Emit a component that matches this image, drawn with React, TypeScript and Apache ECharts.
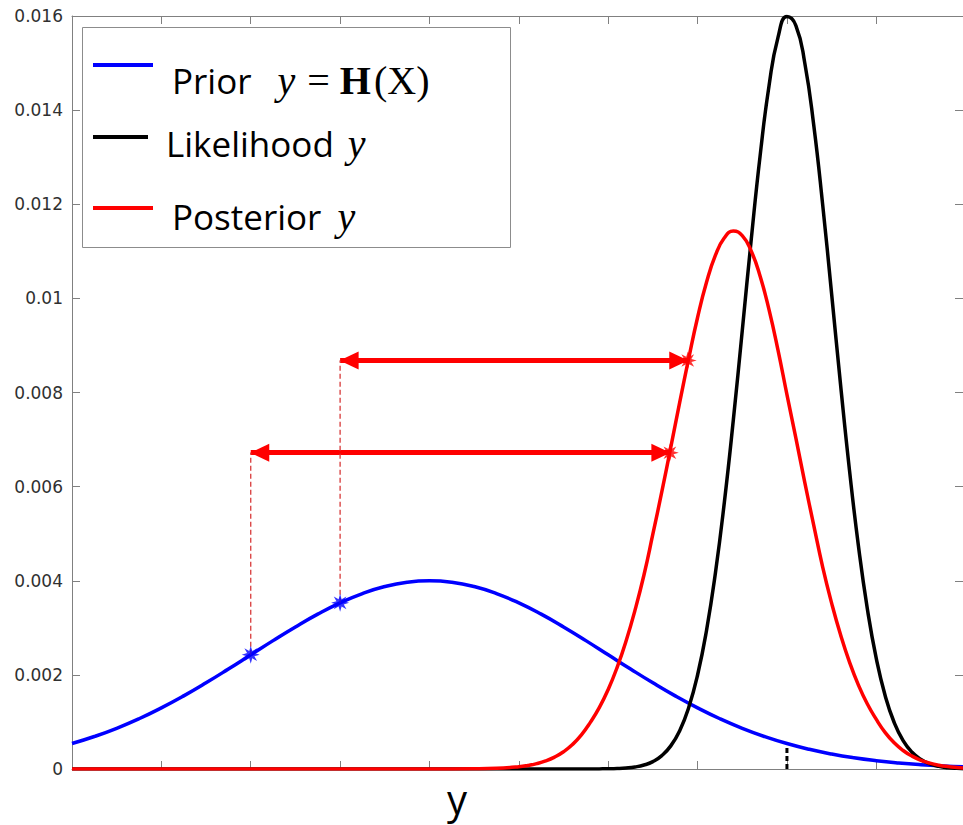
import React, { useEffect, useRef } from 'react';
import * as echarts from 'echarts';

// Prior y = H(X)  (blue)
const priorX = [0, 0.25, 0.5, 0.75, 1, 1.25, 1.5, 1.75, 2, 2.25, 2.5, 2.75, 3, 3.25, 3.5, 3.75, 4,
  4.25, 4.5, 4.75, 5, 5.25, 5.5, 5.75, 6, 6.25, 6.5, 6.75, 7, 7.25, 7.5, 7.75, 8,
  8.25, 8.5, 8.75, 9, 9.25, 9.5, 9.75, 10];
const priorY = [0.000541, 0.00069, 0.000865, 0.001068, 0.001299, 0.001554, 0.001831, 0.002124, 0.002426,
  0.002728, 0.003019, 0.00329, 0.00353, 0.003728, 0.003877, 0.003969, 0.004,
  0.003969, 0.003877, 0.003728, 0.00353, 0.00329, 0.003019, 0.002728, 0.002426, 0.002124, 0.001831,
  0.001554, 0.001299, 0.001068, 0.000865, 0.00069, 0.000541,
  0.000418, 0.000318, 0.000238, 0.000176, 0.000128, 0.0000912, 0.0000641, 0.0000444];

// Posterior y (red)
const posteriorX = [0, 2, 3, 4, 4.5, 4.75,
  5.0, 5.1, 5.2, 5.3, 5.4, 5.5, 5.6, 5.7, 5.8, 5.9,
  6.0, 6.1, 6.2, 6.3, 6.4, 6.5, 6.6, 6.7, 6.8, 6.9,
  7.0, 7.1, 7.2, 7.3, 7.4, 7.5, 7.6, 7.7, 7.8, 7.9,
  8.0, 8.1, 8.2, 8.3, 8.4, 8.5, 8.6, 8.7, 8.8, 8.9,
  9.0, 9.1, 9.2, 9.3, 9.4, 9.5, 9.6, 9.7, 9.8, 9.9, 10];
const posteriorY = [0, 0, 0, 0, 0.0000039, 0.0000144,
  0.0000477, 0.0000744, 0.000114, 0.000171, 0.000253, 0.000366, 0.00052, 0.000725, 0.000991, 0.001303,
  0.001689, 0.00216, 0.00272, 0.003375, 0.004122, 0.004994, 0.005892, 0.006834, 0.007789, 0.008718,
  0.009594, 0.010341, 0.010917, 0.011287, 0.011429, 0.011334, 0.011008, 0.010471, 0.009756, 0.008901,
  0.007954, 0.007032, 0.006085, 0.005177, 0.00429, 0.003525, 0.002852, 0.002272, 0.001783, 0.00138,
  0.001053, 0.000773, 0.000556, 0.000393, 0.000273, 0.000185, 0.000124, 0.0000812, 0.0000522, 0.000033, 0.0000204];

// Likelihood y (black)
const likelihoodX = [0, 5.0, 5.5, 5.8, 5.9,
  6.0, 6.1, 6.2, 6.3, 6.4, 6.5, 6.6, 6.7, 6.8, 6.9,
  7.0, 7.1, 7.2, 7.3, 7.4, 7.5, 7.6, 7.7, 7.8, 7.9,
  8.0, 8.1, 8.2, 8.3, 8.4, 8.5, 8.6, 8.7, 8.8, 8.9,
  9.0, 9.1, 9.2, 9.3, 9.4, 9.5, 9.6, 9.7, 9.8, 9.9, 10];
const likelihoodY = [0, 0, 0, 0, 0.000002,
  0.0000046, 0.00001, 0.0000212, 0.0000431, 0.000084, 0.000157, 0.000284, 0.000491, 0.000815, 0.001302,
  0.001997, 0.002944, 0.00417, 0.005674, 0.007416, 0.009315, 0.011242, 0.013034, 0.014523, 0.015546,
  0.015987, 0.015797, 0.014996, 0.013679, 0.011987, 0.010093, 0.008165, 0.006345, 0.004739, 0.0034,
  0.002344, 0.001552, 0.000988, 0.000604, 0.000355, 0.0002, 0.000109, 0.0000566, 0.0000284, 0.0000136, 0.0000063];

// Marked points
const priorMarkX = [2, 3];
const priorMarkY = [0.00243, 0.00353];
const postMarkX = [6.69, 6.89];
const postMarkY = [0.00672, 0.00868];

// Observation tick (black dashed)
const obsX = 8.0;
const obsTop = 0.00048;

const yMin = 0;
const yMax = 0.016;
const yStep = 0.002;
const xMin = 0;
const xMax = 9.97;
const xStep = 1;

const zip = (xs: number[], ys: number[]) => xs.map((x, i) => [x, ys[i]]);

function asteriskPath(): string {
  const pts: string[] = [];
  for (let k = 0; k < 16; k++) {
    const a = (k * Math.PI) / 8 - Math.PI / 2;
    const r = k % 2 === 0 ? 10 : 4.4;
    pts.push(`${(10 + r * Math.cos(a)).toFixed(3)} ${(10 + r * Math.sin(a)).toFixed(3)}`);
  }
  return 'path://M' + pts.join(' L') + ' Z';
}

export default function App() {
  const ref = useRef<HTMLDivElement>(null);
  useEffect(() => {
    const chart = echarts.init(ref.current!, null, { renderer: 'svg' });
    const axisColor = '#808080';
    const ast = asteriskPath();
    const xAxisBase = {
      type: 'value',
      min: xMin,
      max: xMax,
      interval: xStep,
      axisLine: { show: true, onZero: false, lineStyle: { color: axisColor, width: 1 } },
      axisTick: { show: true, inside: true, length: 8, lineStyle: { color: axisColor } },
      axisLabel: { show: false },
      splitLine: { show: false },
    };
    const yAxisBase = {
      type: 'value',
      min: yMin,
      max: yMax,
      interval: yStep,
      axisLine: { show: true, onZero: false, lineStyle: { color: axisColor, width: 1 } },
      axisTick: { show: true, inside: true, length: 8, lineStyle: { color: axisColor } },
      splitLine: { show: false },
    };
    const option: any = {
      animation: false,
      backgroundColor: '#ffffff',
      grid: { left: 72, right: -4, top: 16, bottom: 56, containLabel: false },
      xAxis: [
        { ...xAxisBase, position: 'bottom' },
        { ...xAxisBase, position: 'top' },
      ],
      yAxis: [
        {
          ...yAxisBase,
          position: 'left',
          axisLabel: { show: true, margin: 9, fontSize: 17, color: '#303030', fontFamily: 'DejaVu Sans' },
        },
        { ...yAxisBase, position: 'right', axisLabel: { show: false } },
      ],
      series: [
        {
          name: 'Prior',
          type: 'line',
          data: zip(priorX, priorY),
          smooth: true,
          symbol: 'none',
          lineStyle: { color: '#0000ff', width: 3.5 },
          z: 3,
        },
        {
          name: 'Likelihood',
          type: 'line',
          data: zip(likelihoodX, likelihoodY),
          smooth: true,
          symbol: 'none',
          lineStyle: { color: '#000000', width: 3.5 },
          z: 4,
        },
        {
          name: 'Posterior',
          type: 'line',
          data: zip(posteriorX, posteriorY),
          smooth: true,
          symbol: 'none',
          lineStyle: { color: '#ff0000', width: 3.5 },
          z: 5,
        },
        {
          name: 'obs',
          type: 'line',
          data: [[obsX, 0], [obsX, obsTop]],
          symbol: 'none',
          lineStyle: { color: '#000000', width: 3, type: [5, 3] },
          z: 6,
        },
        ...priorMarkX.map((x, i) => ({
          name: 'drop' + i,
          type: 'line',
          data: [[x, priorMarkY[i]], [x, postMarkY[i]]],
          symbol: 'none',
          lineStyle: { color: '#d83a3a', width: 1.3, type: [5, 3] },
          z: 6,
        })),
        {
          name: 'arrows',
          type: 'line',
          data: [],
          z: 7,
          markLine: {
            silent: true,
            animation: false,
            symbol: ['triangle', 'triangle'],
            symbolSize: [18, 19],
            symbolOffset: [[0, 9], [0, 9]],
            label: { show: false },
            lineStyle: { color: '#ff0000', width: 5, type: 'solid' },
            data: priorMarkX.map((x, i) => [
              { coord: [x, postMarkY[i]] },
              { coord: [postMarkX[i], postMarkY[i]] },
            ]),
          },
        },
        {
          name: 'priorMarks',
          type: 'scatter',
          data: zip(priorMarkX, priorMarkY),
          symbol: ast,
          symbolSize: 18,
          itemStyle: { color: '#0000ff' },
          z: 8,
        },
        {
          name: 'postMarks',
          type: 'scatter',
          data: zip(postMarkX, postMarkY),
          symbol: ast,
          symbolSize: 18,
          itemStyle: { color: '#ff0000' },
          z: 8,
        },
      ],
      graphic: [
        {
          type: 'group',
          z: 100,
          children: [
            {
              type: 'rect',
              shape: { x: 82.5, y: 27.5, width: 428, height: 220 },
              style: { fill: '#ffffff', stroke: '#8c8c8c', lineWidth: 1 },
            },
            { type: 'line', shape: { x1: 93, y1: 65, x2: 153, y2: 65 }, style: { stroke: '#0000ff', lineWidth: 4 } },
            { type: 'line', shape: { x1: 93, y1: 137, x2: 148, y2: 137 }, style: { stroke: '#000000', lineWidth: 4 } },
            { type: 'line', shape: { x1: 93, y1: 208, x2: 153, y2: 208 }, style: { stroke: '#ff0000', lineWidth: 4 } },
            {
              type: 'text',
              x: 172,
              y: 80,
              style: {
                text: '{t|Prior}{m|y}{e|=}{b|H}{p|(X)}',
                verticalAlign: 'middle',
                align: 'left',
                rich: {
                  t: { fontFamily: 'Open Sans', fontSize: 35, fill: '#000' },
                  m: { fontFamily: 'Liberation Serif', fontStyle: 'italic', fontSize: 40, fill: '#000', padding: [0, 0, 0, 26] },
                  e: { fontFamily: 'Liberation Serif', fontSize: 40, fill: '#000', padding: [0, 0, 0, 12] },
                  b: { fontFamily: 'Liberation Serif', fontWeight: 'bold', fontSize: 40, fill: '#000', padding: [0, 0, 0, 10] },
                  p: { fontFamily: 'Liberation Serif', fontSize: 40, fill: '#000', padding: [0, 0, 0, 3] },
                },
              },
            },
            {
              type: 'text',
              x: 166,
              y: 143,
              style: {
                text: '{t|Likelihood}{m|y}',
                verticalAlign: 'middle',
                align: 'left',
                rich: {
                  t: { fontFamily: 'Open Sans', fontSize: 35, fill: '#000' },
                  m: { fontFamily: 'Liberation Serif', fontStyle: 'italic', fontSize: 40, fill: '#000', padding: [0, 0, 0, 14] },
                },
              },
            },
            {
              type: 'text',
              x: 172,
              y: 216,
              style: {
                text: '{t|Posterior}{m|y}',
                verticalAlign: 'middle',
                align: 'left',
                rich: {
                  t: { fontFamily: 'Open Sans', fontSize: 35, fill: '#000' },
                  m: { fontFamily: 'Liberation Serif', fontStyle: 'italic', fontSize: 40, fill: '#000', padding: [0, 0, 0, 16] },
                },
              },
            },
          ],
        },
        {
          type: 'text',
          x: 457,
          y: 798,
          style: {
            text: 'y',
            fontFamily: 'Open Sans',
            fontSize: 40,
            fill: '#000',
            align: 'center',
            verticalAlign: 'middle',
          },
        },
      ],
    };
    chart.setOption(option);
    return () => chart.dispose();
  }, []);
  return (
    <div
      ref={ref}
      style={{ position: 'fixed', left: 0, top: 0, width: 963, height: 825, background: '#ffffff' }}
    />
  );
}
